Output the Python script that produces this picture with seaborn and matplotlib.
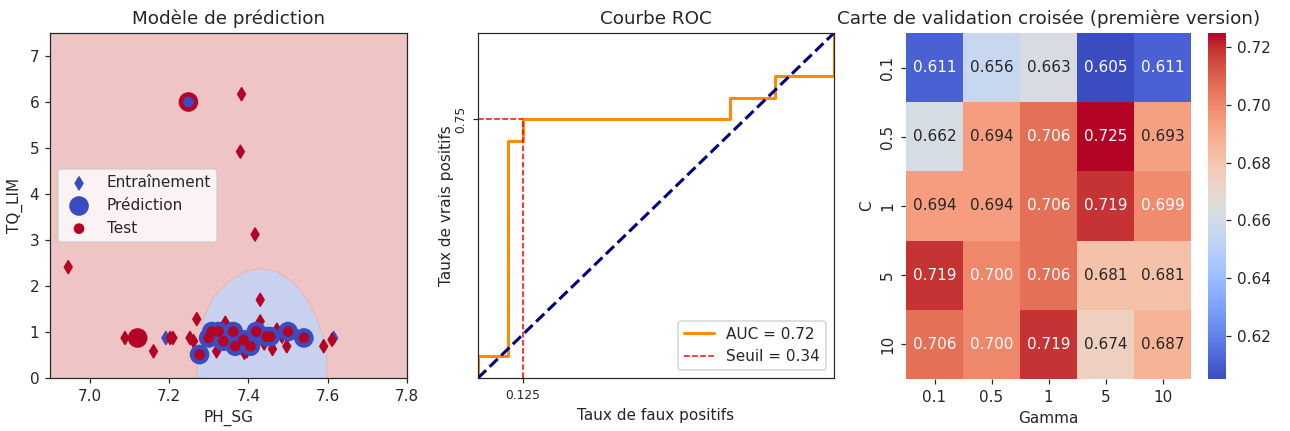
# -*- coding:utf-8 -*-
import numpy as np
import seaborn as sns
import matplotlib
matplotlib.use('Agg')
import matplotlib.pyplot as plt

# --- panel 1: prediction model ---
train_x = [7.192, 7.615, 6.946, 7.383, 7.380, 7.417, 7.430, 7.430, 7.270, 7.089,
           7.161, 7.203, 7.210, 7.253, 7.262, 7.320, 7.342, 7.461, 7.497, 7.590,
           7.611, 7.472, 7.396, 7.315, 7.355, 7.390, 7.440, 7.485, 7.520]
train_y = [0.87, 0.87, 2.41, 6.17, 4.92, 3.12, 1.70, 1.23, 1.28, 0.87,
           0.58, 0.87, 0.87, 0.87, 0.80, 0.58, 1.20, 0.63, 0.69, 0.69,
           0.83, 1.05, 0.58, 0.92, 0.95, 0.55, 0.75, 0.90, 0.95]
train_cls = [0, 0, 1, 1, 1, 1, 1, 1, 1, 1,
             1, 1, 1, 1, 1, 1, 1, 1, 1, 1,
             1, 1, 1, 1, 1, 1, 1, 1, 1]

test_x = [7.300, 7.121, 7.249, 7.277, 7.308, 7.325, 7.337, 7.362, 7.367, 7.388,
          7.405, 7.420, 7.447, 7.455, 7.500, 7.540]
test_y = [0.87, 0.87, 6.00, 0.51, 1.01, 1.01, 0.80, 1.01, 0.69, 0.83,
          0.69, 1.01, 0.90, 0.90, 1.01, 0.87]
pred_cls = [0, 1, 1, 0, 0, 0, 0, 0, 0, 0, 0, 0, 0, 0, 0, 0]
test_cls = [1, 1, 0, 1, 1, 1, 1, 1, 1, 1, 1, 1, 1, 1, 1, 1]

# boundary of the blue decision region
region_x = [7.268, 7.270, 7.283, 7.312, 7.354, 7.396, 7.430, 7.472, 7.514, 7.548, 7.573, 7.590, 7.596, 7.596]
region_top = [0.0, 0.29, 1.27, 1.78, 2.14, 2.34, 2.39, 2.32, 2.07, 1.70, 1.27, 0.83, 0.54, 0.0]

# --- panel 2: ROC ---
fpr = [0.0, 0.0, 0.0833, 0.0833, 0.125, 0.125, 0.7083, 0.7083, 0.8333, 0.8333, 1.0, 1.0]
tpr = [0.0, 0.0625, 0.0625, 0.6875, 0.6875, 0.75, 0.75, 0.8125, 0.8125, 0.875, 0.875, 1.0]
auc = 0.72
seuil = 0.34
seuil_fpr = 0.125
seuil_tpr = 0.75

# --- panel 3: grid search ---
gammas = ['0.1', '0.5', '1', '5', '10']
Cs = ['0.1', '0.5', '1', '5', '10']
scores = [[0.611, 0.656, 0.663, 0.605, 0.611],
          [0.662, 0.694, 0.706, 0.725, 0.693],
          [0.694, 0.694, 0.706, 0.719, 0.699],
          [0.719, 0.700, 0.706, 0.681, 0.681],
          [0.706, 0.700, 0.719, 0.674, 0.687]]

sns.set_style('ticks')
plt.rcParams['font.family'] = ['DejaVu Sans']

W, H, DPI = 1290, 431, 110
fig = plt.figure(figsize=(W / DPI, H / DPI), dpi=DPI)


def box(l, t, r, b):
    return [l / W, (H - b) / H, (r - l) / W, (b - t) / H]


ax1 = fig.add_axes(box(50, 33, 407, 378))
ax2 = fig.add_axes(box(478, 33, 834, 378))
ax3 = fig.add_axes(box(906, 33, 1191, 379))
cax = fig.add_axes(box(1208, 33, 1226, 379))

# 1. prediction model
ax1.set_facecolor('#eec4c4')
ax1.fill_between(region_x, 0, region_top, color='#c8d2f0', lw=0.8, edgecolor='#e6b8b8')
ax1.scatter(train_x, train_y, c=train_cls, cmap='coolwarm', vmin=0, vmax=1,
            marker='d', s=36, label='Entraînement')
ax1.scatter(test_x, test_y, c=pred_cls, cmap='coolwarm', vmin=0, vmax=1,
            s=140, label='Prédiction')
ax1.scatter(test_x, test_y, c=test_cls, cmap='coolwarm', vmin=0, vmax=1,
            s=36, label='Test')
ax1.set_xlim(6.9, 7.8)
ax1.set_ylim(0, 7.5)
ax1.set_xticks([7.0, 7.2, 7.4, 7.6, 7.8])
ax1.set_yticks(range(0, 8))
ax1.set_xlabel('PH_SG')
ax1.set_ylabel('TQ_LIM')
ax1.set_title('Modèle de prédiction')
ax1.legend(loc='center left')

# 2. ROC
ax2.plot(fpr, tpr, color='darkorange', lw=2, label='AUC = %.2f' % auc)
ax2.plot([0, 1], [0, 1], color='navy', lw=2, linestyle='--')
ax2.plot([seuil_fpr, seuil_fpr], [0, seuil_tpr], 'r--', lw=1, label='Seuil = %.2f' % seuil)
ax2.plot([0, seuil_fpr], [seuil_tpr, seuil_tpr], 'r--', lw=1)
ax2.set_xlim(0, 1)
ax2.set_ylim(0, 1)
ax2.set_xticks([seuil_fpr])
ax2.set_yticks([seuil_tpr])
ax2.set_xticklabels(['0.125'], fontsize=8)
ax2.set_yticklabels(['0.75'], fontsize=8, rotation=90, va='center')
ax2.set_xlabel('Taux de faux positifs')
ax2.set_ylabel('Taux de vrais positifs', labelpad=0)
ax2.set_title('Courbe ROC')
ax2.legend(loc='lower right')

# 3. heatmap
sns.heatmap(np.array(scores), annot=True, fmt='.3f', cmap='coolwarm',
            xticklabels=gammas, yticklabels=Cs, ax=ax3, cbar_ax=cax)
ax3.set_yticklabels(Cs, rotation=90, va='center')
ax3.set_xlabel('Gamma')
ax3.set_ylabel('C')
ax3.set_title('Carte de validation croisée (première version)')

fig.savefig('out.png', dpi=DPI)
